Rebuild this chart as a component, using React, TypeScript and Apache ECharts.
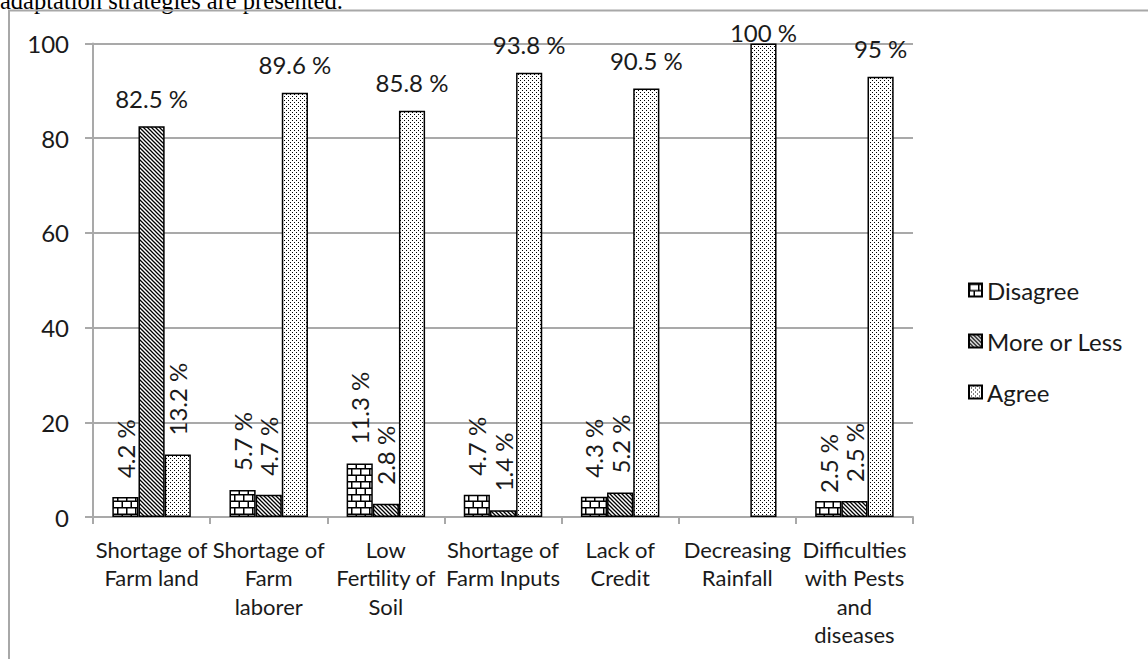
import React, { useEffect, useRef } from "react";
import * as echarts from "echarts";

const categories = [
  "Shortage of\nFarm land",
  "Shortage of\nFarm\nlaborer",
  "Low\nFertility of\nSoil",
  "Shortage of\nFarm Inputs",
  "Lack of\nCredit",
  "Decreasing\nRainfall",
  "Difficulties\nwith Pests\nand\ndiseases",
];
const seriesNames = ["Disagree", "More or Less", "Agree"];
const disagree = [4.2, 5.7, 11.3, 4.7, 4.3, null, 3.4];
const moreOrLess = [82.5, 4.7, 2.8, 1.4, 5.2, null, 3.4];
const agree = [13.2, 89.6, 85.8, 93.8, 90.5, 100, 93];
const disagreeLabels = ["4.2 %", "5.7 %", "11.3 %", "4.7 %", "4.3 %", "", "2.5 %"];
const moreLabels = ["82.5 %", "4.7 %", "2.8 %", "1.4 %", "5.2 %", "", "2.5 %"];
const agreeLabels = ["13.2 %", "89.6 %", "85.8 %", "93.8 %", "90.5 %", "100 %", "95 %"];
const yMin = 0;
const yMax = 100;
const yStep = 20;
const caption = "adaptation strategies are presented.";

const FONT = "Lato";
const TEXT = "#1a1a1a";
const GRID = "#a9a9a9";

function svgPattern(svg: string, w: number, h: number) {
  return {
    image: "data:image/svg+xml;utf8," + encodeURIComponent(svg),
    imageWidth: w,
    imageHeight: h,
    repeat: "repeat",
  };
}

const brick = svgPattern(
  "<svg xmlns='http://www.w3.org/2000/svg' width='9' height='13'><rect width='9' height='13' fill='white'/><path d='M0 0.75H9M0 7.25H9M0.75 0V7.25M5.25 7.25V13' stroke='black' stroke-width='1.5' fill='none'/></svg>",
  9,
  13
);
const hatch = svgPattern(
  "<svg xmlns='http://www.w3.org/2000/svg' width='4' height='4'><rect width='4' height='4' fill='white'/><path d='M-1 -1L5 5M-1 3L1 5M3 -1L5 1' stroke='black' stroke-width='1.3' fill='none'/></svg>",
  4,
  4
);
const dots = svgPattern(
  "<svg xmlns='http://www.w3.org/2000/svg' width='4' height='4'><rect width='4' height='4' fill='white'/><rect x='0' y='0' width='1' height='1' fill='black'/><rect x='2' y='2' width='1' height='1' fill='black'/></svg>",
  4,
  4
);
const patterns = [brick, hatch, dots];

function labelFor(value: number | null, text: string, extraOffset: number[] | null) {
  if (value == null || text === "") return { show: false };
  if (value >= 20) {
    return {
      show: true,
      formatter: text,
      position: "top",
      distance: 16,
      rotate: 0,
      offset: extraOffset || [0, 0],
      fontFamily: FONT,
      fontSize: 24,
      color: TEXT,
    };
  }
  return {
    show: true,
    formatter: text,
    position: "top",
    distance: 19,
    rotate: 90,
    align: "left",
    verticalAlign: "middle",
    offset: extraOffset || [0, 0],
    fontFamily: FONT,
    fontSize: 24,
    color: TEXT,
  };
}

// per-label nudges (style only)
const nudges: Record<string, number[]> = {
  "2-5": [0, 17],
  "0-6": [-11, 0],
};

export default function App() {
  const ref = useRef<HTMLDivElement>(null);
  useEffect(() => {
    if (!ref.current) return;
    const chart = echarts.init(ref.current, null, { renderer: "svg" });
    const values = [disagree, moreOrLess, agree];
    const labels = [disagreeLabels, moreLabels, agreeLabels];
    const series = seriesNames.map((name, si) => ({
      name,
      type: "bar",
      barGap: "0%",
      barCategoryGap: "33%",
      itemStyle: { color: patterns[si], borderColor: "#000", borderWidth: 1.5 },
      data: values[si].map((v, i) => ({
        value: v,
        label: labelFor(v, labels[si][i], nudges[si + "-" + i] || null),
      })),
    }));
    chart.setOption({
      animation: false,
      backgroundColor: "#fff",
      textStyle: { fontFamily: FONT },
      graphic: [
        {
          type: "text",
          x: 0,
          y: -12,
          style: {
            text: caption,
            fontFamily: "Liberation Serif",
            fontSize: 24.5,
            fill: "#000",
          },
        },
        {
          type: "polyline",
          shape: { points: [[9, 700], [9, 10.5], [1160, 10.5]] },
          style: { stroke: "#a8a8a8", lineWidth: 2, fill: "none" },
        },
      ],
      legend: {
        orient: "vertical",
        left: 963,
        top: 273,
        itemWidth: 13,
        itemHeight: 13,
        itemGap: 27,
        icon: "rect",
        textStyle: { fontFamily: FONT, fontSize: 24, color: TEXT },
        data: seriesNames,
      },
      grid: { left: 93, right: 235, top: 43.5, bottom: 142, containLabel: false },
      xAxis: {
        type: "category",
        data: categories,
        axisLine: { lineStyle: { color: GRID, width: 2 } },
        axisTick: { show: true, length: 7, alignWithLabel: false, lineStyle: { color: GRID, width: 2 } },
        axisLabel: {
          interval: 0,
          fontFamily: FONT,
          fontSize: 22,
          lineHeight: 28.5,
          color: TEXT,
          margin: 18,
        },
      },
      yAxis: {
        type: "value",
        min: yMin,
        max: yMax,
        interval: yStep,
        axisLine: { show: true, lineStyle: { color: GRID, width: 2 } },
        axisTick: { show: true, length: 8, lineStyle: { color: GRID, width: 2 } },
        splitLine: { show: true, lineStyle: { color: GRID, width: 2 } },
        axisLabel: { fontFamily: FONT, fontSize: 24, color: TEXT, margin: 24 },
      },
      series,
    });
    return () => chart.dispose();
  }, []);
  return (
    <div style={{ position: "fixed", left: 0, top: 0, width: 1148, height: 659, background: "#fff" }}>
      <div ref={ref} style={{ width: 1148, height: 659 }} />
    </div>
  );
}
